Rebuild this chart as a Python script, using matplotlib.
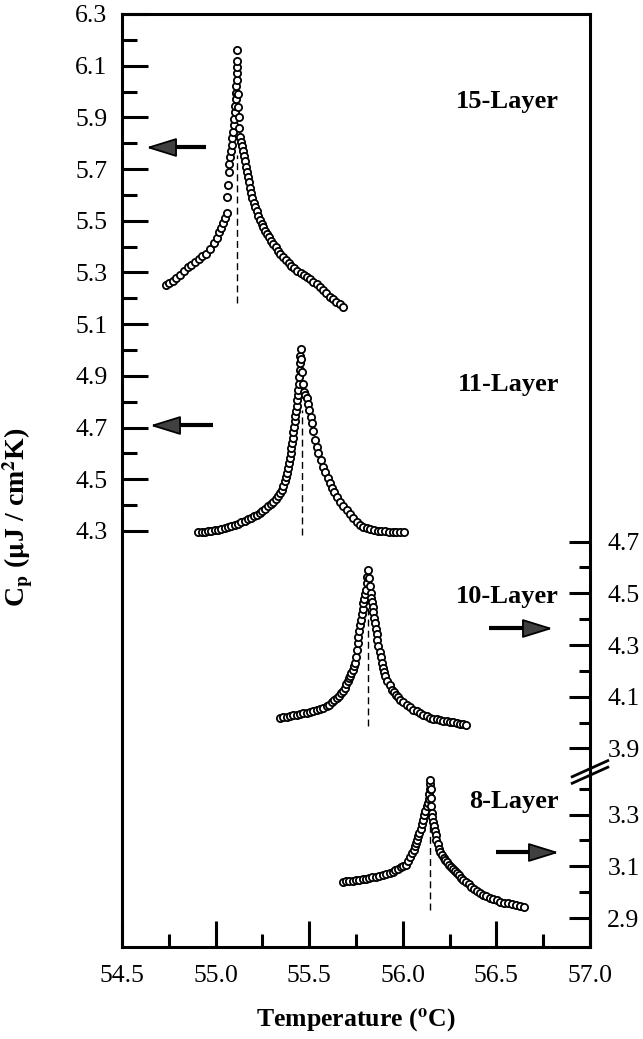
import matplotlib
matplotlib.use('Agg')
import matplotlib.pyplot as plt
from matplotlib.ticker import FixedLocator
import numpy as np

plt.rcParams['font.family'] = ['Liberation Serif', 'DejaVu Serif']
plt.rcParams['mathtext.fontset'] = 'stix'

# 15-layer, left axis
t15 = [54.735, 54.75, 54.77, 54.79, 54.81, 54.83, 54.85, 54.87, 54.89, 54.91, 54.93, 54.95, 54.97, 54.99,
       55.005, 55.02, 55.03, 55.04, 55.05, 55.06,
       55.063, 55.066, 55.070, 55.074, 55.078, 55.082, 55.086, 55.090, 55.094, 55.097, 55.100, 55.103,
       55.106, 55.108, 55.110, 55.111, 55.112, 55.113, 55.114, 55.115, 55.116,
       55.119, 55.121, 55.123, 55.126, 55.129, 55.135, 55.142, 55.148, 55.153, 55.158, 55.163, 55.168,
       55.174, 55.179, 55.185, 55.190, 55.197, 55.204, 55.211, 55.219, 55.228, 55.237, 55.246, 55.255,
       55.264, 55.273, 55.284, 55.295, 55.307, 55.320, 55.333, 55.346, 55.360, 55.375, 55.390, 55.405,
       55.420, 55.437, 55.454, 55.471, 55.487, 55.505, 55.522, 55.540, 55.557, 55.575, 55.592, 55.610,
       55.628, 55.645, 55.662, 55.680]
c15 = [5.250, 5.258, 5.268, 5.280, 5.292, 5.305, 5.320, 5.330, 5.342, 5.352, 5.362, 5.373, 5.392, 5.415,
       5.435, 5.458, 5.474, 5.490, 5.510, 5.532,
       5.592, 5.640, 5.690, 5.720, 5.745, 5.770, 5.795, 5.820, 5.845, 5.870, 5.895, 5.920,
       5.945, 5.970, 5.995, 6.020, 6.045, 6.070, 6.095, 6.120, 6.160,
       5.990, 5.940, 5.900, 5.860, 5.825, 5.805, 5.790, 5.770, 5.750, 5.730, 5.710, 5.690,
       5.670, 5.650, 5.628, 5.607, 5.588, 5.570, 5.553, 5.537, 5.520, 5.503, 5.489, 5.475,
       5.462, 5.450, 5.437, 5.423, 5.410, 5.397, 5.384, 5.372, 5.360, 5.349, 5.338, 5.327,
       5.317, 5.307, 5.297, 5.290, 5.283, 5.273, 5.264, 5.254, 5.245, 5.233, 5.220, 5.206,
       5.196, 5.186, 5.177, 5.167]

# 11-layer, left axis
t11 = [54.908, 54.925, 54.942, 54.960, 54.978, 54.995, 55.012, 55.030, 55.048, 55.066, 55.084, 55.102,
       55.120, 55.138, 55.155, 55.172, 55.189, 55.205, 55.220, 55.235, 55.250, 55.265, 55.280, 55.294,
       55.308, 55.320, 55.332, 55.343, 55.353, 55.362, 55.370, 55.377, 55.383, 55.388, 55.393, 55.397,
       55.401, 55.404, 55.407, 55.411, 55.414, 55.418, 55.422, 55.426, 55.430, 55.434, 55.437, 55.440,
       55.442, 55.444, 55.447, 55.449, 55.451, 55.453, 55.455,
       55.458, 55.462, 55.466, 55.472, 55.479, 55.486, 55.493, 55.500, 55.507, 55.513, 55.521, 55.530,
       55.539, 55.549, 55.561, 55.575, 55.587, 55.599, 55.611, 55.623, 55.635, 55.647, 55.664, 55.682,
       55.700, 55.718, 55.736, 55.754, 55.771, 55.789, 55.807, 55.826, 55.846, 55.866, 55.886, 55.906,
       55.926, 55.946, 55.966, 55.986, 56.005]
c11 = [4.297, 4.297, 4.298, 4.299, 4.301, 4.303, 4.305, 4.308, 4.311, 4.315, 4.319, 4.323,
       4.328, 4.333, 4.339, 4.345, 4.351, 4.357, 4.362, 4.370, 4.379, 4.387, 4.395, 4.404,
       4.413, 4.425, 4.437, 4.448, 4.459, 4.475, 4.492, 4.508, 4.525, 4.543, 4.562, 4.582,
       4.602, 4.621, 4.640, 4.661, 4.682, 4.703, 4.724, 4.745, 4.765, 4.785, 4.805, 4.825,
       4.845, 4.870, 4.897, 4.922, 4.950, 4.976, 5.003,
       4.965, 4.915, 4.870, 4.839, 4.826, 4.813, 4.791, 4.768, 4.742, 4.717, 4.685, 4.652,
       4.626, 4.600, 4.575, 4.549, 4.527, 4.506, 4.485, 4.467, 4.450, 4.433, 4.411, 4.396,
       4.381, 4.365, 4.350, 4.336, 4.325, 4.316, 4.310, 4.306, 4.303, 4.301, 4.300, 4.299,
       4.298, 4.297, 4.296, 4.295, 4.295]

# 10-layer, right axis (upper part)
t10 = [55.344, 55.362, 55.380, 55.398, 55.416, 55.433, 55.451, 55.469, 55.487, 55.505, 55.522, 55.540,
       55.558, 55.576, 55.593, 55.607, 55.620, 55.634, 55.647, 55.658, 55.669, 55.680, 55.690, 55.698,
       55.705, 55.712, 55.718, 55.725, 55.732, 55.739, 55.745, 55.749, 55.753, 55.758, 55.762, 55.766,
       55.771, 55.775, 55.780, 55.785, 55.789, 55.794, 55.799, 55.803, 55.807, 55.811, 55.816,
       55.820, 55.824, 55.828, 55.832, 55.836, 55.839, 55.843, 55.847, 55.851, 55.855, 55.860, 55.864,
       55.870, 55.876, 55.882, 55.887, 55.894, 55.900, 55.906, 55.917, 55.929, 55.940, 55.951, 55.962,
       55.974, 55.985, 56.003, 56.021, 56.038, 56.056, 56.074, 56.092, 56.109, 56.127, 56.145, 56.163,
       56.181, 56.199, 56.216, 56.234, 56.252, 56.269, 56.287, 56.305, 56.322, 56.340]
c10 = [4.018, 4.020, 4.023, 4.025, 4.028, 4.031, 4.033, 4.036, 4.038, 4.041, 4.044, 4.048,
       4.052, 4.058, 4.063, 4.070, 4.078, 4.086, 4.095, 4.104, 4.114, 4.124, 4.134, 4.148,
       4.162, 4.172, 4.179, 4.192, 4.205, 4.218, 4.230, 4.255, 4.281, 4.307, 4.333, 4.355,
       4.377, 4.398, 4.420, 4.441, 4.462, 4.479, 4.496, 4.513, 4.539, 4.565, 4.591,
       4.560, 4.530, 4.500, 4.483, 4.466, 4.449, 4.428, 4.406, 4.385, 4.363, 4.342, 4.320,
       4.297, 4.275, 4.252, 4.230, 4.213, 4.196, 4.179, 4.162, 4.144, 4.127, 4.118, 4.108,
       4.099, 4.089, 4.079, 4.069, 4.060, 4.050, 4.043, 4.037, 4.030, 4.024, 4.018, 4.015,
       4.012, 4.010, 4.007, 4.005, 4.003, 4.001, 3.998, 3.996, 3.994, 3.992]

# 8-layer, right axis (lower part)
t8 = [55.679, 55.697, 55.714, 55.732, 55.750, 55.768, 55.785, 55.803, 55.820, 55.838, 55.856, 55.874,
      55.892, 55.911, 55.930, 55.945, 55.960, 55.975, 55.989, 56.003, 56.017, 56.029, 56.040, 56.050,
      56.058, 56.065, 56.071, 56.077, 56.082, 56.087, 56.097, 56.103, 56.109, 56.115, 56.121, 56.127,
      56.133, 56.139, 56.142, 56.144, 56.145, 56.146,
      56.148, 56.150, 56.151, 56.154, 56.158, 56.163, 56.167, 56.171, 56.176, 56.180, 56.187, 56.194,
      56.201, 56.210, 56.218, 56.225, 56.236, 56.246, 56.257, 56.268, 56.279, 56.290, 56.301, 56.312,
      56.322, 56.337, 56.351, 56.366, 56.381, 56.395, 56.410, 56.428, 56.447, 56.465, 56.483, 56.502,
      56.520, 56.542, 56.563, 56.585, 56.607, 56.628, 56.650]
c8 = [3.041, 3.042, 3.044, 3.045, 3.047, 3.049, 3.051, 3.052, 3.054, 3.057, 3.060, 3.064,
      3.067, 3.070, 3.074, 3.079, 3.084, 3.090, 3.096, 3.101, 3.106, 3.120, 3.135, 3.150,
      3.165, 3.177, 3.190, 3.203, 3.216, 3.229, 3.246, 3.263, 3.281, 3.298, 3.315, 3.332,
      3.345, 3.360, 3.380, 3.400, 3.418, 3.435,
      3.400, 3.365, 3.335, 3.307, 3.290, 3.272, 3.255, 3.238, 3.220, 3.203, 3.186, 3.168,
      3.155, 3.143, 3.133, 3.125, 3.116, 3.107, 3.099, 3.090, 3.082, 3.073, 3.065, 3.056,
      3.048, 3.039, 3.030, 3.022, 3.013, 3.005, 2.996, 2.990, 2.985, 2.979, 2.974, 2.968,
      2.963, 2.960, 2.957, 2.954, 2.950, 2.947, 2.944]

# transition temperatures and extent of the dashed lines
tcList = [55.114, 55.460, 55.816, 56.143]
dashLow = [5.182, 4.285, 3.985, 2.930]
dashHigh = [5.755, 4.768, 4.500, 3.350]

layerNames = ['15-Layer', '11-Layer', '10-Layer', '8-Layer']

xTicks = [54.5, 55.0, 55.5, 56.0, 56.5, 57.0]
xMinor = [54.75, 55.25, 55.75, 56.25, 56.75]
leftTicks = [4.3, 4.5, 4.7, 4.9, 5.1, 5.3, 5.5, 5.7, 5.9, 6.1, 6.3]
leftMinor = [4.4, 4.6, 4.8, 5.0, 5.2, 5.4, 5.6, 5.8, 6.0, 6.2]
rightUpTicks = [3.9, 4.1, 4.3, 4.5, 4.7]
rightUpMinor = [4.0, 4.2, 4.4, 4.6]
rightLowTicks = [2.9, 3.1, 3.3]
rightLowMinor = [3.0, 3.2, 3.4]

# arrows: tail, tip, height (in the units of the axis they belong to)
arrowTail = [54.949, 54.985, 56.462, 56.497]
arrowTip = [54.639, 54.664, 56.786, 56.813]
arrowY = [5.784, 4.710, 4.366, 3.156]

TICKFONT = 18.5


def styleYAxis(axis, major, minor, majorLen, minorLen, pad):
    axis.set_yticks(major)
    axis.set_yticklabels(['%.1f' % v for v in major])
    axis.yaxis.set_minor_locator(FixedLocator(minor))
    axis.tick_params(axis='y', which='major', direction='in', length=majorLen, width=2.2,
                     pad=pad, labelsize=TICKFONT)
    axis.tick_params(axis='y', which='minor', direction='in', length=minorLen, width=2.2)


def drawArrow(axis, tail, tip, y):
    # shaft plus a narrow, filled triangular head
    sign = 1 if tip > tail else -1
    headLen = 0.144
    axis.plot([tail, tip - sign * headLen * 0.8], [y, y], color='black', lw=3.0,
              solid_capstyle='butt', zorder=4)
    head = [(1, 0), (-1, 0.62), (-1, -0.62), (1, 0)] if sign > 0 else \
           [(-1, 0), (1, 0.62), (1, -0.62), (-1, 0)]
    axis.plot([tip - sign * headLen / 2], [y], marker=head, ms=19.5, mfc='0.25', mec='black',
              mew=1.3, ls='none', zorder=5)


fig = plt.figure(figsize=(6.43, 10.39), dpi=100)
ax = fig.add_axes([0.18974, 0.08855, 0.72784, 0.89798])
axUp = ax.twinx()
axLow = ax.twinx()

ax.set_xlim(54.5, 57.0)
ax.set_ylim(2.6907, 6.3)
axUp.set_ylim(3.132, 6.741)
axLow.set_ylim(2.788, 6.397)

for s in ax.spines.values():
    s.set_linewidth(2.2)
for a in (axUp, axLow):
    for s in a.spines.values():
        s.set_visible(False)

ax.set_xticks(xTicks)
ax.set_xticklabels(['%.1f' % v for v in xTicks])
ax.xaxis.set_minor_locator(FixedLocator(xMinor))
ax.tick_params(axis='x', which='major', direction='in', length=18.7, width=2.2, pad=13,
               labelsize=TICKFONT, top=False)
ax.tick_params(axis='x', which='minor', direction='in', length=9.4, width=2.2, top=False)

styleYAxis(ax, leftTicks, leftMinor, 18.7, 10.8, 10.5)
ax.tick_params(axis='y', which='both', right=False)
styleYAxis(axUp, rightUpTicks, rightUpMinor, 15, 8, 12.5)
styleYAxis(axLow, rightLowTicks, rightLowMinor, 15, 8, 12.5)

mk = dict(marker='o', ms=5.2, mfc='white', mec='black', mew=1.3, ls='none', zorder=3)
seriesAxes = [ax, ax, axUp, axLow]
for axis, t, c in zip(seriesAxes, [t15, t11, t10, t8], [c15, c11, c10, c8]):
    axis.plot(t, c, **mk)

for axis, tc, lo, hi in zip(seriesAxes, tcList, dashLow, dashHigh):
    axis.plot([tc, tc], [lo, hi], color='black', lw=1.0, ls=(0, (5, 3)), zorder=2)

for axis, tail, tip, y in zip(seriesAxes, arrowTail, arrowTip, arrowY):
    drawArrow(axis, tail, tip, y)

labelY = [0.9057, 0.6034, 0.3755, 0.1557]
for name, y in zip(layerNames, labelY):
    ax.text(0.934, y, name, transform=ax.transAxes, ha='right', va='center',
            fontsize=19, fontweight='bold')

# axis break marks on the right spine
for off in (-0.0035, 0.0035):
    ax.plot([0.962, 1.038], [0.1790 + off, 0.1962 + off], transform=ax.transAxes,
            color='black', lw=2.0, clip_on=False, zorder=6)

ax.set_xlabel(r'Temperature ($^{\mathbf{o}}$C)', fontsize=18.5, fontweight='bold', labelpad=14)
fig.text(0.027, 0.5024, r'C$_{\mathbf{p}}$ ($\mathbf{\mu}$J / cm$^{\mathbf{2}}$K)', rotation=90,
         ha='center', va='center', fontsize=20, fontweight='bold')

fig.savefig('out.png', dpi=100)
